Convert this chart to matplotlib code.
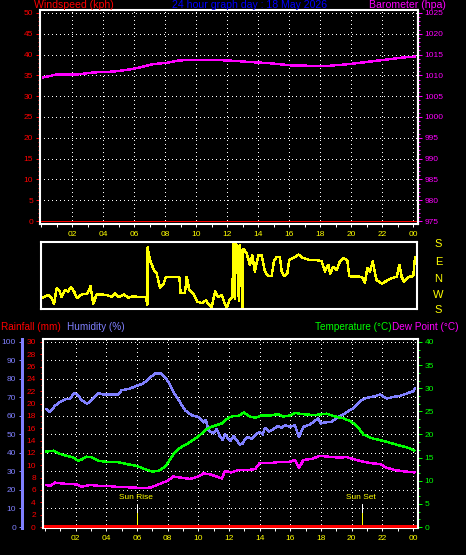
import matplotlib
matplotlib.use('Agg')
import matplotlib.pyplot as plt
import numpy as np
from matplotlib.ticker import MultipleLocator, AutoMinorLocator

plt.rcParams['font.family'] = ['Liberation Sans', 'DejaVu Sans']

# ---------------- data ----------------
wind_time = [0.0, 24.3]
wind_speed = [0, 0]

baro_time = [0.15, 1.0, 2.3, 3.37, 4.67, 5.53, 6.39, 7.25, 8.1, 8.75, 9.4, 11.3, 12.4,
             13.5, 14.8, 16.1, 17.35, 18.6, 19.9, 21.2, 22.5, 23.4, 24.1]
baro_hpa = [1009.5, 1010.2, 1010.2, 1010.7, 1010.9, 1011.3, 1011.9, 1012.7, 1013.0, 1013.5,
            1013.7, 1013.7, 1013.5, 1013.2, 1012.9, 1012.4, 1012.3, 1012.3, 1012.7, 1013.3,
            1013.9, 1014.3, 1014.5]

dir_time = [0.15, 0.47, 0.69, 0.84, 1.01, 1.18, 1.33, 1.55, 1.76, 1.94, 2.13, 2.34, 2.63, 2.99,
            3.2, 3.37, 3.59, 4.24, 4.56, 4.77, 5.05, 5.35, 5.63, 5.95, 6.28, 6.77, 6.86, 6.88,
            7.03, 7.29, 7.46, 7.68, 7.89, 8.06, 8.92, 9.01, 9.29, 9.4, 9.57, 9.83, 10.08, 10.37,
            10.65, 10.8, 11.01, 11.23, 11.44, 11.66, 11.81, 11.98, 12.15, 12.34, 12.42, 12.5,
            12.58, 12.7, 12.76, 12.85, 13.0, 13.05, 13.27, 13.48, 13.63, 13.8, 14.02, 14.24,
            14.45, 14.67, 14.88, 15.03, 15.2, 15.42, 15.53, 15.68, 15.89, 16.02, 16.28, 16.6,
            16.92, 17.35, 17.79, 18.11, 18.32, 18.54, 18.65, 18.86, 19.08, 19.29, 19.5, 19.76,
            19.89, 20.69, 20.9, 21.05, 21.23, 21.4, 21.55, 21.66, 21.98, 22.3, 22.63, 22.95,
            23.12, 23.27, 23.42, 23.7, 24.02, 24.13]
dir_deg = [243, 256, 238, 207, 292, 281, 245, 281, 274, 299, 274, 238, 259, 263,
           302, 207, 259, 256, 245, 263, 243, 259, 241, 248, 245, 245, 202, 151,
           83, 29, 11, 295, 310, 353, 353, 266, 266, 353, 281, 263, 220, 211,
           227, 207, 189, 274, 245, 256, 220, 184, 227, 243, 173, 234,
           166, 155, 223, 162, 184, 144, 119, 58, 108, 22, 108, 108,
           22, 356, 356, 76, 101, 97, 22, 356, 11, 83, 94, 112,
           94, 83, 83, 76, 22, 58, 11, 47, 29, 76, 94, 83,
           356, 353, 320, 40, 22, 76, 11, 335, 317, 331, 346, 353,
           58, 353, 328, 353, 356, 97]

hum_time = [0.07, 0.33, 0.65, 0.98, 1.3, 1.63, 1.91, 2.17, 2.39, 2.72, 2.93, 3.22, 3.48, 3.8,
            4.78, 5.0, 5.54, 5.98, 6.41, 6.85, 7.17, 7.55, 7.83, 8.15, 8.45, 8.8, 9.13, 9.57,
            10.0, 10.33, 10.5, 10.65, 10.98, 11.2, 11.42, 11.6, 11.74, 12.07, 12.3, 12.5, 12.7,
            12.9, 13.1, 13.26, 13.5, 13.7, 14.0, 14.2, 14.35, 14.6, 14.9, 15.2, 15.44, 15.66,
            15.98, 16.3, 16.52, 16.57, 16.85, 17.29, 17.83, 18.0, 18.27, 18.7, 19.03, 19.46,
            19.79, 20.22, 20.66, 20.99, 21.53, 21.85, 22.29, 22.72, 23.16, 23.59, 24.02, 24.13]
hum_pct = [63.7, 62.2, 65.5, 67.6, 69.0, 69.4, 72.5, 71.2, 68.5, 66.7, 67.6, 70.3, 72.5, 71.6,
           71.6, 73.9, 74.8, 76.3, 77.5, 80.8, 82.9, 82.9, 81.1, 77.0, 72.0, 67.6, 63.1, 60.4,
           59.5, 56.5, 58.0, 52.3, 50.6, 53.0, 48.7, 47.0, 50.0, 46.4, 49.0, 47.0, 44.5,
           45.2, 48.0, 48.7, 47.5, 49.6, 51.4, 50.0, 53.6, 51.5, 52.9, 54.5, 53.6, 55.0,
           54.1, 55.0, 49.6, 48.7, 54.1, 55.4, 58.7, 56.0, 56.5, 56.8, 59.0, 60.8,
           62.6, 64.9, 68.5, 69.8, 70.7, 71.6, 69.4, 70.3, 70.9, 72.1, 73.4, 74.8]

temp_time = [0.07, 0.54, 0.98, 1.41, 1.85, 2.17, 2.39, 2.72, 3.05, 3.48, 4.02, 4.67, 5.33, 5.98,
             6.52, 6.96, 7.39, 7.83, 8.15, 8.45, 8.8, 9.13, 9.67, 10.11, 10.55, 10.98, 11.53,
             11.96, 12.28, 12.61, 12.98, 13.26, 13.7, 14.13, 14.68, 15.22, 15.54, 15.98, 16.3,
             16.74, 17.61, 18.37, 18.92, 19.46, 19.9, 20.33, 20.76, 21.31, 21.96, 22.61, 23.27,
             23.81, 24.09]
temp_c = [16.3, 16.5, 15.8, 15.4, 15.0, 14.3, 14.6, 15.2, 15.1, 14.3, 14.1, 14.1, 13.6, 13.2,
          12.5, 12.0, 12.1, 13.0, 14.6, 16.1, 17.1, 17.7, 18.8, 19.9, 21.2, 21.8, 22.4,
          23.6, 24.0, 24.0, 24.8, 24.0, 23.6, 24.1, 24.1, 24.4, 23.9, 24.1, 24.7,
          24.4, 24.2, 24.5, 23.9, 23.5, 22.9, 21.9, 20.0, 19.2, 18.7, 18.1, 17.5,
          17.0, 16.5]

dew_time = [0.07, 0.33, 0.65, 1.09, 1.63, 2.07, 2.39, 2.93, 3.48, 4.02, 4.67, 5.33, 5.98, 6.52,
            6.96, 7.39, 7.93, 8.37, 8.8, 9.46, 10.0, 10.33, 10.76, 11.2, 11.53, 11.74, 12.17,
            12.61, 13.15, 13.7, 14.0, 14.46, 14.9, 15.33, 15.87, 16.3, 16.57, 16.85, 17.39,
            17.94, 18.48, 19.13, 19.68, 20.22, 20.76, 21.31, 21.85, 22.29, 22.83, 23.48, 24.09]
dew_c = [9.1, 8.9, 9.6, 9.4, 9.3, 9.2, 8.7, 9.1, 8.9, 8.9, 8.7, 8.6, 8.5, 8.4,
         8.6, 9.2, 9.9, 10.9, 10.7, 10.4, 10.9, 11.6, 11.4, 10.9, 10.5, 12.1, 11.8,
         12.3, 12.3, 12.5, 13.8, 13.8, 13.9, 14.1, 14.0, 14.5, 12.7, 14.5, 14.7,
         15.4, 15.2, 15.0, 15.1, 14.6, 14.1, 13.8, 13.6, 12.8, 12.3, 12.0, 11.8]

rain_time = [0.0, 24.3]
rain_mm = [0, 0]

sunrise_h = 6.02
sunset_h = 20.66

hour_ticks = list(range(2, 25, 2))
hour_labels = [f"{h % 24:02d}" for h in hour_ticks]
compass_labels = ['S', 'E', 'N', 'W', 'S']

# ---------------- figure ----------------
W, H = 466, 555
PT = 0.72
fig = plt.figure(figsize=(W / 100, H / 100), dpi=100, facecolor='black')

def fx(px):
    return px / W

def fy(py):
    return 1 - py / H

BLUE = '#0000ff'
HUM = '#8080ff'
MAG = '#ff00ff'
GRN = '#00ff00'
RED = '#ff0000'
YEL = '#ffff00'
DOT = (0, (1, 4))
FS = 6
LW = 1.0

def frame(ax, sides=('top', 'bottom', 'left', 'right')):
    for s, sp in ax.spines.items():
        if s in sides:
            sp.set_color('white')
            sp.set_linewidth(1.5)
        else:
            sp.set_visible(False)

# ---------- top panel ----------
ax1 = fig.add_axes([fx(40), fy(224), (418 - 40) / W, (224 - 10) / H])
ax1.set_facecolor('black')
ax1.set_xlim(-0.065, 24.32)
ax1.set_ylim(-0.72, 50.7)
frame(ax1)
ax1.set_xticks(hour_ticks)
ax1.set_xticklabels(hour_labels)
ax1.xaxis.set_minor_locator(MultipleLocator(1))
ax1.tick_params(axis='x', which='both', colors='white', labelcolor=YEL, labelsize=FS,
                length=3 * PT, width=PT, pad=3)
ax1.set_yticks(range(0, 51, 5))
ax1.yaxis.set_minor_locator(MultipleLocator(1))
ax1.tick_params(axis='y', which='major', colors=RED, labelsize=FS, length=4 * PT, width=PT, pad=2)
ax1.tick_params(axis='y', which='minor', colors=RED, length=2 * PT, width=PT)
ax1.grid(True, which='major', color='white', linestyle=DOT, linewidth=PT, antialiased=False)
ax1.plot(wind_time, wind_speed, color=RED, lw=PT, antialiased=False, zorder=3)

ax1b = ax1.twinx()
ax1b.set_ylim(975 - 0.72, 975 + 50.7)
frame(ax1b, ('right',))
ax1b.set_yticks(range(975, 1026, 5))
ax1b.yaxis.set_minor_locator(MultipleLocator(1))
ax1b.tick_params(axis='y', which='major', colors=MAG, labelsize=FS, length=4 * PT, width=PT, pad=2)
ax1b.tick_params(axis='y', which='minor', colors=MAG, length=2 * PT, width=PT)
ax1b.plot(baro_time, baro_hpa, color=MAG, lw=LW, antialiased=False)

fig.text(fx(34), fy(5.5), 'Windspeed (kph)', color=RED, fontsize=7.6, va='center', ha='left')
fig.text(fx(172), fy(5.5), '24 hour graph day : 18 May 2026', color=BLUE, fontsize=7.6,
         va='center', ha='left')
fig.text(fx(446), fy(5.5), 'Barometer (hpa)', color=MAG, fontsize=7.6, va='center', ha='right')

# ---------- wind direction panel ----------
ax2 = fig.add_axes([fx(41), fy(309), (417 - 41) / W, (309 - 242) / H])
ax2.set_facecolor('black')
ax2.set_xlim(0, 24.26)
ax2.set_ylim(180, 540)
frame(ax2)
ax2.set_xticks([])
ax2.set_yticks([])
d = np.array(dir_deg, dtype=float)
d_plot = np.where(d < 180, d + 360, d)
ax2.plot(dir_time, d_plot, color=YEL, lw=LW, antialiased=False)
for lab, py in zip(compass_labels, [244, 262, 279.5, 295, 310]):
    fig.text(fx(438.5), fy(py), lab, color=YEL, fontsize=8, ha='center', va='center')

# ---------- bottom panel ----------
ax3 = fig.add_axes([fx(43), fy(528), (418 - 43) / W, (528 - 339) / H])
ax3.set_facecolor('black')
ax3.set_xlim(-0.13, 24.33)
ax3.set_ylim(-0.54, 101.6)
frame(ax3, ('top', 'bottom', 'left'))
ax3.spines['left'].set_position(('outward', 21.3 * PT))
ax3.spines['left'].set_color(HUM)
ax3.spines['left'].set_linewidth(3 * PT)
ax3.set_xticks(hour_ticks)
ax3.set_xticklabels(hour_labels)
ax3.xaxis.set_minor_locator(MultipleLocator(1))
ax3.tick_params(axis='x', which='both', colors='white', labelcolor=YEL, labelsize=FS,
                length=3 * PT, width=PT, pad=3)
ax3.set_yticks(range(0, 101, 10))
ax3.tick_params(axis='y', which='major', colors=HUM, labelsize=FS, length=3 * PT, width=PT, pad=2)
ax3.grid(True, which='major', color='white', linestyle=DOT, linewidth=PT, antialiased=False)
ax3.plot(hum_time, hum_pct, color=HUM, lw=LW, antialiased=False, zorder=3)

ax3r = ax3.twinx()
ax3r.set_ylim(-0.54 * 0.3, 101.6 * 0.3)
frame(ax3r, ('left',))
ax3r.yaxis.tick_left()
ax3r.set_yticks(range(0, 31, 2))
ax3r.yaxis.set_minor_locator(MultipleLocator(1))
ax3r.tick_params(axis='y', which='major', colors=RED, labelsize=FS, length=3 * PT, width=PT, pad=3)
ax3r.tick_params(axis='y', which='minor', colors=RED, length=2 * PT, width=PT)
ax3r.plot(rain_time, rain_mm, color=RED, lw=2.2 * PT, antialiased=False, zorder=2)

ax3t = ax3.twinx()
ax3t.set_ylim(-0.54 * 0.4, 101.6 * 0.4)
frame(ax3t, ('right',))
ax3t.set_yticks(range(0, 41, 5))
ax3t.yaxis.set_minor_locator(AutoMinorLocator(3))
ax3t.tick_params(axis='y', which='major', colors=GRN, labelsize=FS, length=4 * PT, width=PT, pad=2)
ax3t.tick_params(axis='y', which='minor', colors=GRN, length=2 * PT, width=PT)
ax3t.plot(temp_time, temp_c, color=GRN, lw=LW, antialiased=False)
ax3t.plot(dew_time, dew_c, color=MAG, lw=LW, antialiased=False)

# sunrise / sunset markers (humidity scale coordinates)
for h, lab in [(sunrise_h, 'Sun Rise'), (sunset_h, 'Sun Set')]:
    ax3.plot([h, h], [8.1, 12.4], color='white', lw=PT, antialiased=False, zorder=4)
    ax3.plot([h, h], [0, 8.1], color=YEL, lw=PT, linestyle=(0, (1, 1)), antialiased=False, zorder=4)
    ax3.text(h - 0.07, 15.7, lab, color=YEL, fontsize=6, ha='center', va='center', zorder=4)

fig.text(fx(1), fy(327), 'Rainfall (mm)', color=RED, fontsize=7.2, va='center', ha='left')
fig.text(fx(67), fy(327), 'Humidity (%)', color=HUM, fontsize=7.2, va='center', ha='left')
fig.text(fx(392), fy(327), 'Temperature (°C)', color=GRN, fontsize=7.2, va='center', ha='right')
fig.text(fx(392), fy(327), 'Dew Point (°C)', color=MAG, fontsize=7.2, va='center', ha='left')

fig.savefig('out.png', dpi=100, facecolor='black')
